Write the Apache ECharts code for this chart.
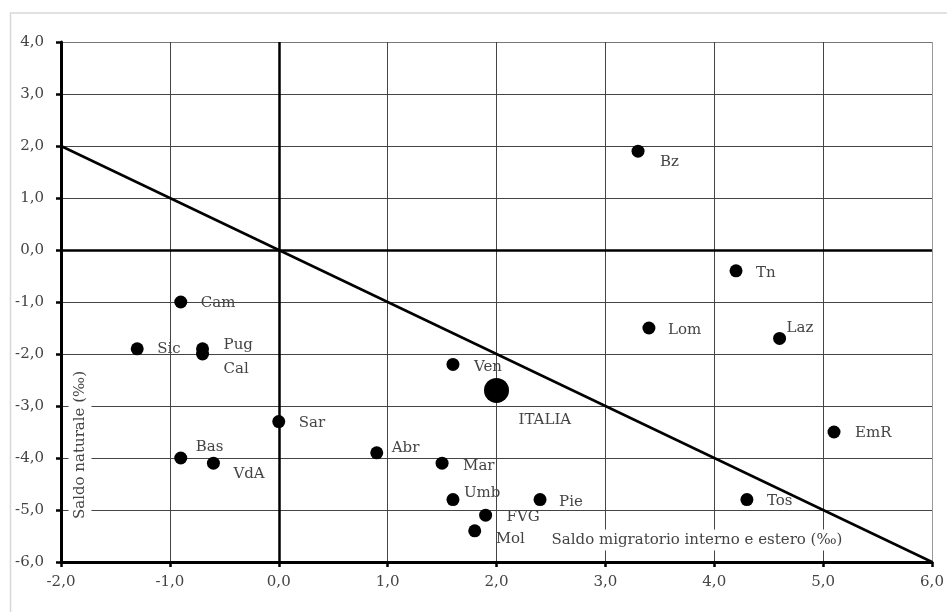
<!DOCTYPE html>
<html>
<head>
<meta charset="utf-8">
<script src="https://cdn.jsdelivr.net/npm/echarts@6/dist/echarts.min.js"></script>
<style>html,body{margin:0;padding:0;background:#fff}#c{width:947px;height:612px}</style>
</head>
<body>
<div id="c"></div>
<script>
// ---- data ----
const regions    = ['Bz','Tn','Lom','Laz','EmR','Tos','Ven','Abr','Mar','Umb','Pie','FVG','Mol','Sar','Cam','Sic','Pug','Cal','Bas','VdA'];
const migratorio = [3.3, 4.2, 3.4, 4.6, 5.1, 4.3, 1.6, 0.9, 1.5, 1.6, 2.4, 1.9, 1.8, 0.0, -0.9, -1.3, -0.7, -0.7, -0.9, -0.6];
const naturale   = [1.9, -0.4, -1.5, -1.7, -3.5, -4.8, -2.2, -3.9, -4.1, -4.8, -4.8, -5.1, -5.4, -3.3, -1.0, -1.9, -1.9, -2.0, -4.0, -4.1];
const italiaName = 'ITALIA';
const italiaX = [2.0];
const italiaY = [-2.7];
const refLineX = [-2, 6];
const refLineY = [2, -6];
const xAxisTitle = 'Saldo migratorio interno e estero (‰)';
const yAxisTitle = 'Saldo naturale (‰)';

// ---- label placement (style) ----
const labelPos = {
  Bz:[22,11], Tn:[20,2], Lom:[19,2], Laz:[7,-10], EmR:[21,1], Tos:[20,2],
  Ven:[21,3], Abr:[15,-5], Mar:[21,3], Umb:[11,-6], Pie:[19,3], FVG:[21,2],
  Mol:[21,8], Sar:[20,2], Cam:[20,1], Sic:[20,0], Pug:[21,-4], Cal:[21,15],
  Bas:[15,-11], VdA:[20,11], ITALIA:[22,30]
};
const FONT = 'DejaVu Serif';
const FS = 15;
const fmt = v => v.toFixed(1).replace('.', ',');
const r = 6.5, R = 12.5;

const regionData = regions.map((n, i) => ({
  name: n, value: [migratorio[i], naturale[i]],
  label: { offset: [labelPos[n][0] - r, labelPos[n][1]] }
}));
const italiaData = [{
  name: italiaName, value: [italiaX[0], italiaY[0]],
  label: { offset: [labelPos[italiaName][0] - R, labelPos[italiaName][1]] }
}];

const gridColorsX = ['#444','#444','#444','#444','#444','#444','#444','#444','#999'];
const gridColorsY = ['#444','#444','#444','#444','#444','#444','#444','#444','#444','#444','#777'];

const chart = echarts.init(document.getElementById('c'));
chart.setOption({
  animation: false,
  backgroundColor: '#fff',
  grid: { left: 61, right: 15, top: 42, bottom: 50 },
  xAxis: {
    type: 'value', min: -2, max: 6, interval: 1,
    axisLine: { onZero: false, lineStyle: { color: '#000', width: 3 } },
    axisTick: { show: true, length: 5, lineStyle: { color: '#000', width: 2.5 } },
    axisLabel: { formatter: fmt, color: '#444', fontFamily: FONT, fontSize: FS, margin: 13 },
    splitLine: { show: true, lineStyle: { color: gridColorsX, width: 1 } }
  },
  yAxis: {
    type: 'value', min: -6, max: 4, interval: 1,
    axisLine: { onZero: false, lineStyle: { color: '#000', width: 3 } },
    axisTick: { show: true, length: 5, lineStyle: { color: '#000', width: 2.5 } },
    axisLabel: { formatter: fmt, color: '#444', fontFamily: FONT, fontSize: FS, margin: 17 },
    splitLine: { show: true, lineStyle: { color: gridColorsY, width: 1 } }
  },
  graphic: [
    { type: 'polyline', z: -1, shape: { points: [[10.5, 612], [10.5, 13], [947, 13]] },
      style: { fill: 'none', stroke: '#d8d8d8', lineWidth: 1.5 } },
    { type: 'text', z: 100, x: 80, y: 445, rotation: Math.PI / 2,
      style: { text: yAxisTitle, font: FS + 'px "' + FONT + '"', fill: '#444',
        align: 'center', verticalAlign: 'middle', backgroundColor: '#fff', padding: [4, 8] } },
    { type: 'text', z: 100, x: 697, y: 540,
      style: { text: xAxisTitle, font: FS + 'px "' + FONT + '"', fill: '#444',
        align: 'center', verticalAlign: 'middle', backgroundColor: '#fff', padding: [3, 4] } }
  ],
  series: [
    {
      type: 'line', data: refLineX.map((x, i) => [x, refLineY[i]]),
      symbol: 'none', lineStyle: { color: '#000', width: 2.5 }, z: 3, silent: true,
      markLine: {
        silent: true, symbol: 'none', label: { show: false },
        lineStyle: { color: '#000', width: 2.5, type: 'solid' },
        data: [{ xAxis: 0 }, { yAxis: 0 }]
      }
    },
    {
      type: 'scatter', data: regionData, symbolSize: 2 * r, z: 4,
      itemStyle: { color: '#000', opacity: 1 },
      label: { show: true, position: 'right', distance: 0, formatter: p => p.name,
        color: '#444', fontFamily: FONT, fontSize: FS }
    },
    {
      type: 'scatter', data: italiaData, symbolSize: 2 * R, z: 4,
      itemStyle: { color: '#000', opacity: 1 },
      label: { show: true, position: 'right', distance: 0, formatter: p => p.name,
        color: '#444', fontFamily: FONT, fontSize: FS }
    }
  ]
});
</script>
</body>
</html>
